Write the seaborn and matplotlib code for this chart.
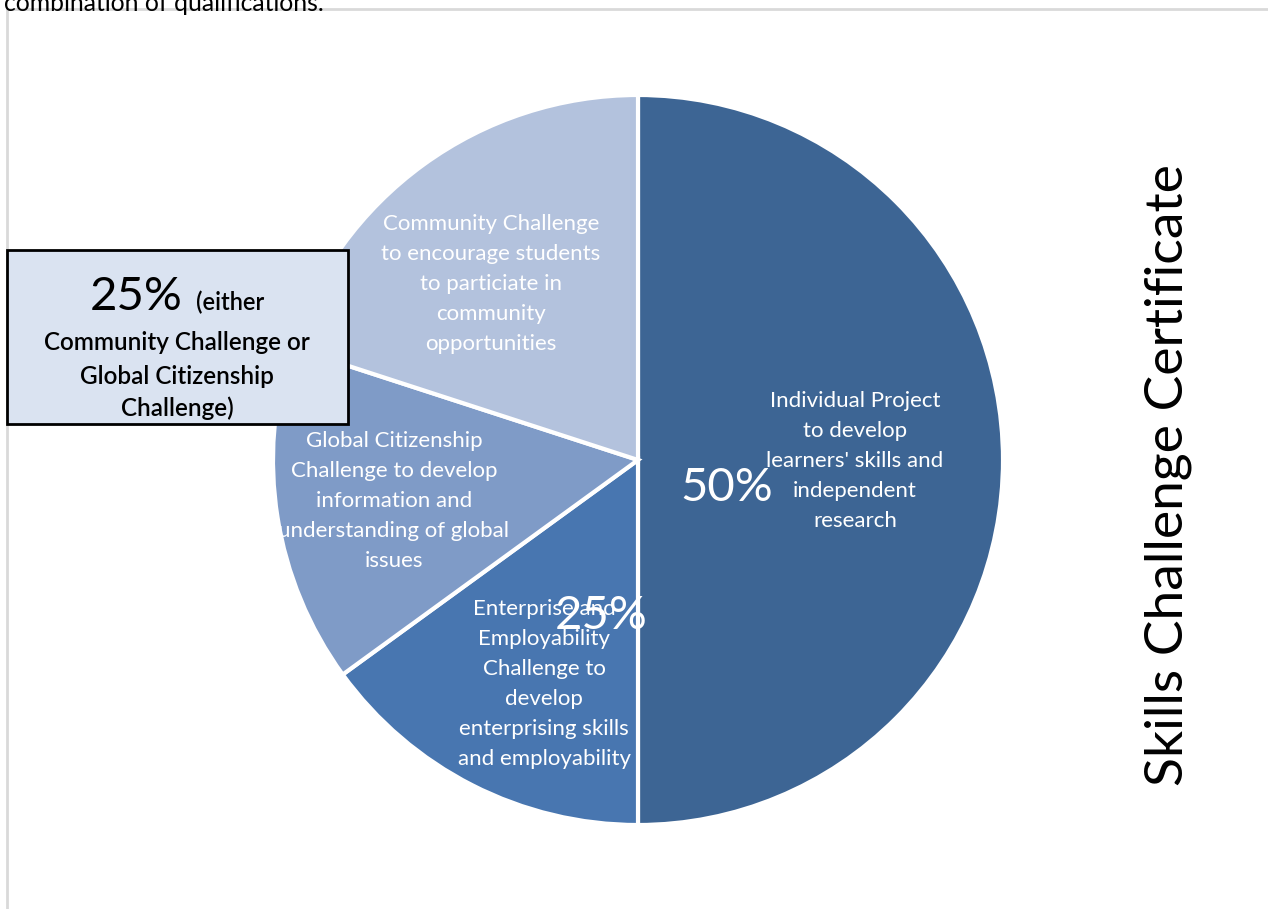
import matplotlib
matplotlib.use("Agg")
import matplotlib.pyplot as plt
import seaborn as sns
from matplotlib.patches import Rectangle
from matplotlib.lines import Line2D

sns.set_theme(style="white")
plt.rcParams['font.family'] = ['Lato', 'DejaVu Sans']

# ---- data ----
categories = [
    "Individual Project\nto develop\nlearners' skills and\nindependent\nresearch",
    "Enterprise and\nEmployability\nChallenge to\ndevelop\nenterprising skills\nand employability",
    "Global Citizenship\nChallenge to develop\ninformation and\nunderstanding of global\nissues",
    "Community Challenge\nto encourage students\nto particiate in\ncommunity\nopportunities",
]
values = [50, 15, 15, 20]
colors = ["#3D6594", "#4876B0", "#7F9BC7", "#B3C2DD"]
pct_labels = ["50%", "25%"]
box_lines = ["Community Challenge or", "Global Citizenship", "Challenge)"]
side_title = "Skills Challenge Certificate"
top_text = "combination of qualifications."

W, H = 1268, 909
fig = plt.figure(figsize=(W / 100, H / 100), dpi=100)
ax = fig.add_axes([0, 0, 1, 1])

cx, cy, r = 638, H - 460, 365
wedges, _ = ax.pie(values, colors=colors, startangle=90, counterclock=False,
                   center=(cx, cy), radius=r,
                   wedgeprops=dict(edgecolor="white", linewidth=3))
ax.set_xlim(0, W)
ax.set_ylim(0, H)
ax.set_aspect("equal")
ax.axis("off")

# slice descriptions
label_pos = [(855, 461), (544, 684), (394, 501), (491, 284)]
for txt, (x, y) in zip(categories, label_pos):
    ax.text(x, H - y, txt, ha="center", va="center", color="white",
            fontsize=16, linespacing=1.62)

# percentage labels
ax.text(727, H - 488, pct_labels[0], ha="center", va="center", color="white", fontsize=34)
ax.text(601, H - 616, pct_labels[1], ha="center", va="center", color="white", fontsize=34)

# box annotation
ax.add_patch(Rectangle((7, H - 424), 341, 174, facecolor="#DAE3F1",
                       edgecolor="black", linewidth=2, zorder=5))
ax.text(136, H - 297, "25%", ha="center", va="center", color="black",
        fontsize=34, zorder=6)
ax.text(230, H - 302, "(either", ha="center", va="center", color="black",
        fontsize=17, fontweight="semibold", zorder=6)
for i, (ln, yy) in enumerate(zip(box_lines, [343, 377, 408])):
    ax.text(177, H - yy, ln, ha="center", va="center", color="black",
            fontsize=17.5, fontweight="semibold", zorder=6)

# vertical side title
ax.text(1168, H - 475, side_title, ha="center", va="center", rotation=90,
        color="black", fontsize=38.5)

# frame lines
ax.add_line(Line2D([7, 7], [0, H - 9], color="#D9D9D9", linewidth=2))
ax.add_line(Line2D([7, W], [H - 9, H - 9], color="#D9D9D9", linewidth=2))

# top clipped text
ax.text(4, H - 11, top_text, ha="left", va="baseline", color="black", fontsize=17.8)

fig.savefig("out.png", dpi=100)
